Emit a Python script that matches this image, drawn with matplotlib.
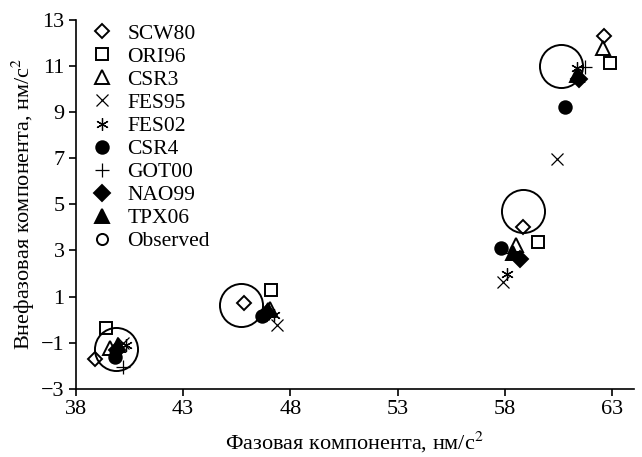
import matplotlib
matplotlib.use("Agg")
import matplotlib.pyplot as plt
from matplotlib.lines import Line2D

plt.rcParams['font.family'] = ['Liberation Serif', 'DejaVu Serif']
plt.rcParams['mathtext.fontset'] = 'stix'

# phase / out-of-phase components, four groups per model
models = ["SCW80", "ORI96", "CSR3", "FES95", "FES02", "CSR4", "GOT00", "NAO99", "TPX06", "Observed"]
phase = {
    "SCW80": [38.92, 45.84, 58.82, 62.60],
    "ORI96": [39.41, 47.10, 59.52, 62.90],
    "CSR3": [39.59, 47.05, 58.50, 62.55],
    "FES95": [40.20, 47.37, 57.90, 60.42],
    "FES02": [40.32, 47.22, 58.09, 61.35],
    "CSR4": [39.82, 46.66, 57.84, 60.78],
    "GOT00": [40.21, 47.00, 58.30, 61.75],
    "NAO99": [39.93, 46.90, 58.70, 61.43],
    "TPX06": [39.97, 46.95, 58.39, 61.35],
    "Observed": [39.87, 45.70, 58.82, 60.60],
}
outphase = {
    "SCW80": [-1.70, 0.74, 4.03, 12.29],
    "ORI96": [-0.34, 1.30, 3.36, 11.13],
    "CSR3": [-1.23, 0.45, 3.24, 11.75],
    "FES95": [-1.02, -0.23, 1.65, 6.95],
    "FES02": [-1.09, 0.20, 1.98, 10.90],
    "CSR4": [-1.60, 0.16, 3.10, 9.23],
    "GOT00": [-2.06, 0.30, 2.90, 10.96],
    "NAO99": [-1.31, 0.28, 2.62, 10.45],
    "TPX06": [-1.09, 0.42, 2.88, 10.60],
    "Observed": [-1.26, 0.62, 4.72, 11.00],
}
xticks = [38, 43, 48, 53, 58, 63]
yticks = [-3, -1, 1, 3, 5, 7, 9, 11, 13]

# marker, size, filled
styles = {
    "SCW80": ("D", 7.5, False),
    "ORI96": ("s", 9, False),
    "CSR3": ("^", 10, False),
    "FES95": ("x", 8, False),
    "FES02": ((6, 2, 0), 9, False),
    "CSR4": ("o", 9, True),
    "GOT00": ("+", 10, False),
    "NAO99": ("D", 8, True),
    "TPX06": ("^", 10, True),
    "Observed": ("o", 31, False),
}

fig = plt.figure(figsize=(6.42, 4.57), dpi=100)
ax = fig.add_axes([0.118, 0.149, 0.869, 0.808])

handles = []
for name in models:
    m, s, filled = styles[name]
    fc = "black" if filled else "none"
    lw = 0.9 if name in ("FES95", "FES02", "GOT00") else 1.4
    z = 1 if name == "Observed" else 3
    ax.plot(phase[name], outphase[name], linestyle="none", marker=m, markersize=s,
            markerfacecolor=fc, markeredgecolor="black", markeredgewidth=lw, zorder=z)
    hs = 8 if name == "Observed" else min(s, 9.5)
    handles.append(Line2D([], [], linestyle="none", marker=m, markersize=hs,
                          markerfacecolor=fc, markeredgecolor="black", markeredgewidth=lw,
                          label=name))

ax.set_xlim(38, 64)
ax.set_ylim(-3, 13)
ax.set_xticks(xticks)
ax.set_yticks(yticks)
ax.spines["top"].set_visible(False)
ax.spines["right"].set_visible(False)
ax.spines["left"].set_linewidth(1.2)
ax.spines["bottom"].set_linewidth(1.2)
ax.tick_params(direction="out", length=5, width=1.2, labelsize=16, pad=3)

ax.set_xlabel("Фазовая компонента, нм/с$^2$", fontsize=16, labelpad=8)
ax.set_ylabel("Внефазовая компонента, нм/с$^2$", fontsize=16, labelpad=3)

ax.legend(handles=handles, loc="upper left", bbox_to_anchor=(0.0, 1.03), frameon=False,
          fontsize=15.5, handlelength=1.0, handletextpad=0.7, labelspacing=0.14,
          borderaxespad=0.3)

fig.savefig("out.png", dpi=100)
